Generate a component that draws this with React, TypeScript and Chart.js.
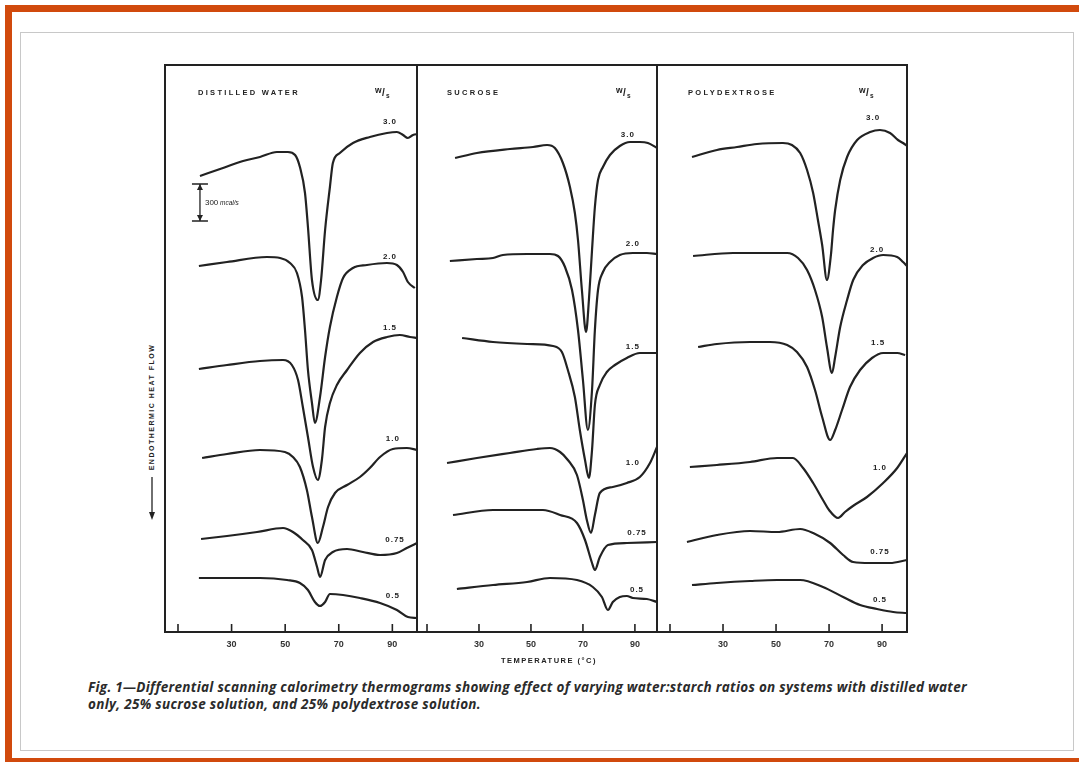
import React, { useEffect, useRef } from "react";
import { Chart, registerables } from "chart.js";

Chart.register(...registerables);

const INK = "#222";
const ORANGE = "#d14a0d";

// Water:starch ratios (w/s) shown on each thermogram
const ratioLabels = ["3.0", "2.0", "1.5", "1.0", "0.75", "0.5"];

// x-axis ticks (°C)
const tickValues = [10, 30, 50, 70, 90];
const tickLabelValues = [30, 50, 70, 90];

// Curves: [temperature °C, relative endothermic heat flow (offset per curve)]
const water30 = [[18.2,456],[26.8,464],[34.3,471],[40.6,475],[46.9,480],[51.0,480],[53.7,477],[55.5,465],[57.4,439],[58.5,405],[60.0,352],[62.2,332],[63.4,352],[64.9,402],[66.7,445],[67.8,469],[70.4,479],[75.3,489],[81.6,495],[88.0,499],[91.7,500],[94.0,497],[95.8,494],[97.7,497],[99.6,498]];
const water20 = [[17.8,366],[28.3,370],[43.2,375],[48.1,374],[51.8,369],[54.4,359],[56.3,335],[57.4,302],[58.5,262],[60.0,229],[61.1,209],[63.0,235],[64.9,275],[66.7,305],[69.3,335],[71.6,354],[75.3,364],[80.5,367],[88.0,369],[91.7,367],[94.0,360],[95.8,350],[98.4,344]];
const water15 = [[17.8,263],[28.3,267],[40.6,271],[49.2,272],[52.5,267],[54.8,252],[56.6,225],[58.5,195],[60.4,165],[62.2,152],[63.7,172],[64.9,205],[66.7,229],[69.3,247],[73.1,262],[77.9,279],[82.8,290],[88.0,295],[92.8,297],[96.6,295],[99.2,294]];
const water10 = [[19.0,174],[28.3,178],[40.6,182],[49.9,180],[52.9,175],[55.5,165],[58.1,142],[60.0,115],[62.2,89],[64.1,105],[66.0,125],[68.6,139],[73.1,147],[77.9,155],[81.6,164],[85.4,175],[90.2,183],[95.4,184],[99.2,182]];
const water075 = [[18.6,93],[28.3,96],[39.5,100],[49.2,104],[52.9,100],[56.6,92],[60.0,82],[61.9,65],[63.0,55],[64.9,72],[67.8,80],[73.1,83],[79.0,80],[85.4,77],[91.7,79],[95.4,84],[99.2,89]];
const water05 = [[17.8,54],[28.3,54],[40.6,54],[50.7,52],[55.5,49],[58.5,42],[61.1,30],[63.0,26],[64.9,30],[66.7,38],[71.6,37],[77.9,34],[85.4,29],[91.7,22],[95.8,15],[99.2,14]];

const sucrose30 = [[20.8,474],[29.2,479],[41.9,483],[50.8,485],[56.2,487],[59.2,484],[62.3,469],[65.0,445],[66.9,419],[68.1,392],[69.6,342],[71.2,300],[72.3,332],[73.5,382],[74.6,425],[75.8,452],[77.7,465],[80.4,477],[84.2,486],[88.1,490],[91.9,490],[95.0,489],[98.5,484]];
const sucrose20 = [[18.8,371],[29.2,373],[35.4,374],[39.2,377],[48.5,378],[57.3,378],[60.4,376],[63.1,365],[65.8,342],[68.1,302],[70.0,252],[71.9,202],[73.5,242],[74.6,302],[75.8,342],[77.7,360],[80.4,370],[84.2,377],[89.2,379],[94.6,379],[98.5,378]];
const sucrose15 = [[23.5,294],[35.4,290],[48.5,288],[58.5,286],[61.9,280],[64.2,262],[66.9,235],[68.8,202],[70.8,172],[72.3,154],[73.5,182],[74.6,227],[76.5,247],[79.2,260],[82.3,267],[86.9,274],[91.9,279],[98.5,279]];
const sucrose10 = [[17.7,169],[29.2,174],[41.9,179],[52.3,183],[57.3,184],[61.2,180],[64.2,172],[67.7,157],[70.0,132],[71.5,112],[73.1,99],[74.6,117],[76.5,139],[81.5,145],[86.9,149],[91.9,155],[95.8,169],[98.5,185]];
const sucrose075 = [[20.0,117],[35.4,122],[54.6,122],[61.2,117],[67.7,109],[70.8,92],[73.5,69],[74.6,62],[76.5,75],[79.6,87],[86.9,89],[98.5,90]];
const sucrose05 = [[21.5,43],[35.4,47],[48.5,50],[57.3,54],[67.7,52],[73.8,45],[77.3,35],[79.6,22],[81.5,30],[84.2,35],[86.9,36],[89.2,34],[94.6,33],[98.5,30]];

const polydex30 = [[18.3,475],[27.7,482],[35.3,485],[42.8,488],[52.6,489],[56.0,487],[59.1,479],[61.7,462],[64.0,439],[65.8,412],[67.4,387],[69.2,352],[70.7,377],[71.5,402],[72.3,422],[74.2,452],[76.8,475],[80.6,492],[85.5,500],[89.2,502],[93.0,499],[96.0,492],[97.9,489],[99.4,486]];
const polydex20 = [[18.7,376],[33.8,379],[46.6,379],[54.2,379],[58.3,374],[61.7,362],[64.7,342],[67.4,315],[69.2,285],[71.1,259],[72.3,275],[74.2,305],[76.8,332],[79.1,352],[82.8,367],[86.6,374],[90.4,377],[95.7,375],[97.9,370],[99.4,366]];
const polydex15 = [[20.6,285],[27.7,288],[40.2,290],[47.7,290],[54.2,287],[57.9,280],[61.7,265],[64.7,242],[67.4,215],[70.4,192],[72.3,202],[74.9,222],[77.9,245],[81.7,262],[86.2,274],[90.4,279],[95.7,279],[98.7,277]];
const polydex10 = [[17.5,165],[27.7,167],[40.2,170],[50.4,174],[56.4,174],[60.2,164],[64.0,149],[67.7,132],[70.0,122],[73.4,114],[76.0,120],[79.0,126],[84.3,135],[90.4,149],[95.7,164],[99.4,179]];
const polydex075 = [[16.4,90],[27.7,97],[40.2,101],[50.4,100],[59.1,103],[64.0,99],[70.4,89],[75.3,77],[79.1,70],[85.5,69],[93.0,69],[99.4,72]];
const polydex05 = [[18.3,47],[27.7,49],[40.2,51],[50.4,52],[59.1,52],[67.7,45],[75.3,35],[81.7,27],[88.1,23],[94.2,20],[99.4,19]];

// Ratio label anchors [°C, heat flow]
const waterLabelAt = [[89.1,510],[89.1,375],[89.1,304],[90.2,193],[91.0,92],[90.2,36]];
const sucroseLabelAt = [[87.3,497],[89.2,388],[89.2,285],[89.2,169],[90.8,99],[90.8,42]];
const polydexLabelAt = [[86.6,514],[88.1,382],[88.5,289],[89.2,164],[89.2,80],[89.2,32]];

// 300 mcal/s scale bar [°C, low, high]
const scaleBar = [18.2, 411, 448];

const Y_MAX = 567;

type PanelCfg = {
  key: string;
  title: string;
  left: number;
  right: number;
  tMin: number;
  tMax: number;
  curves: number[][][];
  labels: number[][];
  titleDx: number;
  wsDx: number;
  bar: boolean;
};

const panels: PanelCfg[] = [
  { key: "water", title: "DISTILLED WATER", left: 165, right: 417, tMin: 5.15, tMax: 99.2,
    curves: [water30, water20, water15, water10, water075, water05], labels: waterLabelAt, titleDx: 33, wsDx: 42, bar: true },
  { key: "sucrose", title: "SUCROSE", left: 417, right: 657, tMin: 6.15, tMax: 98.5,
    curves: [sucrose30, sucrose20, sucrose15, sucrose10, sucrose075, sucrose05], labels: sucroseLabelAt, titleDx: 30, wsDx: 41, bar: false },
  { key: "polydex", title: "POLYDEXTROSE", left: 657, right: 907, tMin: 5.1, tMax: 99.4,
    curves: [polydex30, polydex20, polydex15, polydex10, polydex075, polydex05], labels: polydexLabelAt, titleDx: 31, wsDx: 48, bar: false },
];

const TOP = 65;
const PAD = 4;
const AXIS_H = 30;

function decorPlugin(p: PanelCfg) {
  return {
    id: "decor_" + p.key,
    afterDatasetsDraw(chart: any) {
      const { ctx, chartArea: a, scales } = chart;
      const xs = scales.x;
      const ys = scales.y;
      ctx.save();
      ctx.strokeStyle = INK;
      ctx.fillStyle = INK;
      ctx.lineWidth = 2;
      ctx.strokeRect(a.left, a.top, a.right - a.left, a.bottom - a.top);
      ctx.lineWidth = 1.6;
      tickValues.forEach((v) => {
        const x = xs.getPixelForValue(v);
        ctx.beginPath();
        ctx.moveTo(x, a.bottom);
        ctx.lineTo(x, a.bottom - 8);
        ctx.stroke();
      });
      // panel title
      ctx.textBaseline = "middle";
      ctx.textAlign = "left";
      ctx.font = "bold 7.5px 'Liberation Sans'";
      ctx.letterSpacing = "2.3px";
      ctx.fillText(p.title, a.left + p.titleDx, a.top + 28);
      // w/s
      ctx.letterSpacing = "0px";
      const wx = a.right - p.wsDx;
      ctx.font = "bold 8.5px 'Liberation Sans'";
      ctx.fillText("w", wx, a.top + 26);
      ctx.font = "bold 10px 'Liberation Sans'";
      ctx.fillText("/", wx + 7, a.top + 28);
      ctx.font = "bold 6.5px 'Liberation Sans'";
      ctx.fillText("s", wx + 11, a.top + 31);
      // ratio labels
      ctx.font = "bold 8px 'Liberation Sans'";
      ctx.letterSpacing = "1px";
      ctx.textAlign = "center";
      p.labels.forEach((pos, i) => {
        ctx.fillText(ratioLabels[i], xs.getPixelForValue(pos[0]), ys.getPixelForValue(pos[1]));
      });
      ctx.letterSpacing = "0px";
      if (p.bar) {
        const bx = xs.getPixelForValue(scaleBar[0]);
        const yTop = ys.getPixelForValue(scaleBar[2]);
        const yBot = ys.getPixelForValue(scaleBar[1]);
        ctx.lineWidth = 1.3;
        ctx.beginPath();
        ctx.moveTo(bx, yTop);
        ctx.lineTo(bx, yBot);
        ctx.moveTo(bx - 8, yTop);
        ctx.lineTo(bx + 8, yTop);
        ctx.moveTo(bx - 8, yBot);
        ctx.lineTo(bx + 8, yBot);
        ctx.stroke();
        ctx.beginPath();
        ctx.moveTo(bx, yTop);
        ctx.lineTo(bx - 3, yTop + 6);
        ctx.lineTo(bx + 3, yTop + 6);
        ctx.closePath();
        ctx.moveTo(bx, yBot);
        ctx.lineTo(bx - 3, yBot - 6);
        ctx.lineTo(bx + 3, yBot - 6);
        ctx.closePath();
        ctx.fill();
        ctx.textAlign = "left";
        ctx.font = "8px 'Liberation Sans'";
        ctx.fillText("300", bx + 5, (yTop + yBot) / 2);
        ctx.font = "italic 6.5px 'Liberation Sans'";
        ctx.fillText("mcal/s", bx + 20, (yTop + yBot) / 2 + 0.5);
      }
      ctx.restore();
    },
  };
}

function Panel({ p }: { p: PanelCfg }) {
  const ref = useRef<HTMLCanvasElement>(null);
  const w = p.right - p.left + PAD * 2;
  const h = PAD + Y_MAX + AXIS_H;
  useEffect(() => {
    const chart = new Chart(ref.current as HTMLCanvasElement, {
      type: "line",
      data: {
        datasets: p.curves.map((c, i) => ({
          label: ratioLabels[i],
          data: c.map(([x, y]) => ({ x, y })),
          borderColor: INK,
          borderWidth: 2.2,
          pointRadius: 0,
          cubicInterpolationMode: "monotone" as const,
          fill: false,
        })),
      },
      options: {
        responsive: false,
        maintainAspectRatio: false,
        animation: false,
        devicePixelRatio: 1,
        layout: { padding: { left: PAD, right: PAD, top: PAD, bottom: 0 } },
        plugins: { legend: { display: false }, tooltip: { enabled: false }, title: { display: false } },
        scales: {
          x: {
            type: "linear",
            min: p.tMin,
            max: p.tMax,
            afterBuildTicks: (s: any) => {
              s.ticks = tickValues.map((v) => ({ value: v }));
            },
            afterFit: (s: any) => {
              s.height = AXIS_H;
            },
            grid: { display: false, drawTicks: false },
            border: { display: false },
            ticks: {
              autoSkip: false,
              maxRotation: 0,
              padding: 7,
              color: "#333",
              font: { family: "'Liberation Sans'", size: 9, weight: "bold" },
              callback: (v: any) => (tickLabelValues.includes(Number(v)) ? String(v) : ""),
            },
          },
          y: { display: false, min: 0, max: Y_MAX },
        },
      },
      plugins: [decorPlugin(p)],
    } as any);
    return () => chart.destroy();
  }, [p]);
  return (
    <canvas
      ref={ref}
      width={w}
      height={h}
      style={{ position: "absolute", left: p.left - PAD, top: TOP - PAD, width: w, height: h }}
    />
  );
}

export default function App() {
  return (
    <div style={{ position: "fixed", left: 0, top: 0, width: 1079, height: 762, background: "#fff", overflow: "hidden" }}>
      <svg width={1079} height={762} style={{ position: "absolute", left: 0, top: 0 }}>
        <rect x={5} y={5} width={1074} height={7} fill={ORANGE} />
        <rect x={5} y={5} width={7} height={757} fill={ORANGE} />
        <rect x={5} y={758} width={1074} height={4} fill={ORANGE} />
        <rect x={20.5} y={32.5} width={1053} height={718} fill="none" stroke="#c8c8c8" strokeWidth={1} />
        <text
          transform="translate(152,407) rotate(-90)"
          textAnchor="middle"
          dominantBaseline="middle"
          fontSize={7}
          fontWeight="bold"
          letterSpacing={1.5}
          fill={INK}
          fontFamily="'Liberation Sans'"
        >
          ENDOTHERMIC HEAT FLOW
        </text>
        <line x1={152} y1={477} x2={152} y2={516} stroke={INK} strokeWidth={1.3} />
        <path d="M149,512 L152,520 L155,512 Z" fill={INK} />
      </svg>
      {panels.map((p) => (
        <Panel key={p.key} p={p} />
      ))}
      <div
        style={{
          position: "absolute",
          left: 449,
          top: 656,
          width: 200,
          textAlign: "center",
          fontFamily: "'Liberation Sans'",
          fontWeight: "bold",
          fontSize: 7.5,
          letterSpacing: 1.5,
          lineHeight: "10px",
          color: INK,
        }}
      >
        TEMPERATURE (°C)
      </div>
      <div
        style={{
          position: "absolute",
          left: 88,
          top: 679,
          fontFamily: "'Open Sans'",
          fontWeight: 700,
          fontStyle: "italic",
          fontSize: 13.5,
          letterSpacing: 0.3,
          lineHeight: "17px",
          color: "#2b2b2b",
          whiteSpace: "nowrap",
        }}
      >
        Fig. 1—Differential scanning calorimetry thermograms showing effect of varying water:starch ratios on systems with distilled water
        <br />
        only, 25% sucrose solution, and 25% polydextrose solution.
      </div>
    </div>
  );
}
